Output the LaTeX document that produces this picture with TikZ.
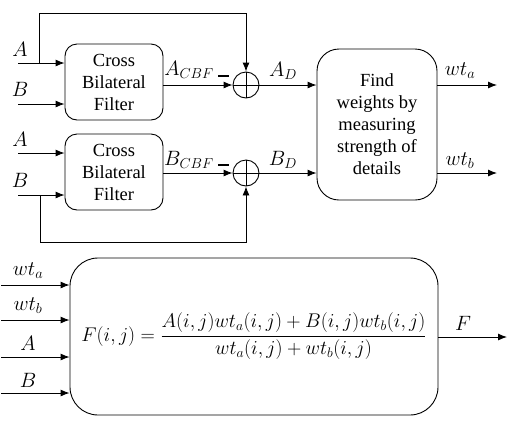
\documentclass[tikz,border=0pt]{standalone}
\usepackage{amsmath}
\usepackage{graphicx}
\usepackage{fontspec}
\setmainfont{Liberation Serif}
\usetikzlibrary{arrows.meta}
\begin{document}
\begin{tikzpicture}[x=1pt,y=-1pt,
  line width=0.9pt,
  arr/.style={-{Latex[length=9pt,width=7pt]}},
  blk/.style={draw, align=center, inner sep=0pt, font=\fontsize{18.5}{22}\selectfont},
  mblk/.style={draw, align=center, inner sep=0pt, font=\fontsize{20.74}{24}\selectfont},
  lbl/.style={font=\fontsize{20}{24}\selectfont, inner sep=0pt},
  sumc/.style={draw, circle, minimum size=26pt, inner sep=0pt}]
\useasboundingbox (0,0) rectangle (524,424);
% boxes
\node[blk, rounded corners=12pt, minimum width=98pt, minimum height=76pt] (b1) at (114,82) {Cross\\Bilateral\\Filter};
\node[blk, rounded corners=12pt, minimum width=98pt, minimum height=76pt] (b2) at (114,172) {Cross\\Bilateral\\Filter};
\node[blk, rounded corners=22pt, minimum width=120pt, minimum height=151pt] (b3) at (377,124.5) {Find\\weights by\\measuring\\strength of\\details};
\node[mblk, rounded corners=28pt, minimum width=368pt, minimum height=157pt] (b4) at (254,336.5) {\scalebox{0.955}{$F(i,j)=\dfrac{A(i,j)wt_a(i,j)+B(i,j)wt_b(i,j)}{wt_a(i,j)+wt_b(i,j)}$}};
% summing junctions
\node[sumc] (s1) at (246,85) {};
\node[sumc] (s2) at (246,173) {};
\draw (s1.north) -- (s1.south) (s1.west) -- (s1.east);
\draw (s2.north) -- (s2.south) (s2.west) -- (s2.east);
% input coordinates
\coordinate (ia1) at (18,63);
\coordinate (ib1) at (18,104);
\coordinate (ia2) at (18,153);
\coordinate (ib2) at (18,195);
\coordinate (fa) at (39,63);
\coordinate (fb) at (40,195);
\draw[arr] (ia1) -- (ia1 -| b1.west);
\draw[arr] (ib1) -- (ib1 -| b1.west);
\draw[arr] (ia2) -- (ia2 -| b2.west);
\draw[arr] (ib2) -- (ib2 -| b2.west);
\node[lbl] (la1) at (20,49) {$A$};
\node[lbl] (lb1) at (20,89) {$B$};
\node[lbl] (la2) at (20,139) {$A$};
\node[lbl] (lb2) at (20,180) {$B$};
% feedback
\draw[arr] (fa) -- (39,13) -- (246,13) -- (s1.north);
\draw[arr] (fb) -- (40,242) -- (246,242) -- (s2.south);
% box outputs to sums
\draw[arr] (b1.east |- s1) -- (s1.west);
\draw[arr] (b2.east |- s2) -- (s2.west);
\node[lbl] (acbf) at (189,70) {$A_{CBF}$};
\node[lbl] (bcbf) at (189,160) {$B_{CBF}$};
\draw[line width=2pt] (218,76) -- (229,76);
\draw[line width=2pt] (218,165) -- (229,165);
% sums to box3
\draw[arr] (s1.east) -- (s1 -| b3.west);
\draw[arr] (s2.east) -- (s2 -| b3.west);
\node[lbl] (ad) at (283,71) {$A_D$};
\node[lbl] (bd) at (283,160) {$B_D$};
% box3 outputs
\coordinate (owa) at (497,85);
\coordinate (owb) at (497,173);
\draw[arr] (owa -| b3.east) -- (owa);
\draw[arr] (owb -| b3.east) -- (owb);
\node[lbl] (lwa) at (460,71) {$wt_a$};
\node[lbl] (lwb) at (460,161) {$wt_b$};
% bottom inputs
\coordinate (i1) at (1,285);
\coordinate (i2) at (1,320);
\coordinate (i3) at (1,357);
\coordinate (i4) at (1,393);
\draw[arr] (i1) -- (i1 -| b4.west);
\draw[arr] (i2) -- (i2 -| b4.west);
\draw[arr] (i3) -- (i3 -| b4.west);
\draw[arr] (i4) -- (i4 -| b4.west);
\node[lbl] (l1) at (28,271) {$wt_a$};
\node[lbl] (l2) at (28,306) {$wt_b$};
\node[lbl] (l3) at (28,343) {$A$};
\node[lbl] (l4) at (28,380) {$B$};
% output F
\coordinate (of) at (507,337);
\draw[arr] (of -| b4.east) -- (of);
\node[lbl] (lf) at (463,323) {$F$};
\end{tikzpicture}
\end{document}
